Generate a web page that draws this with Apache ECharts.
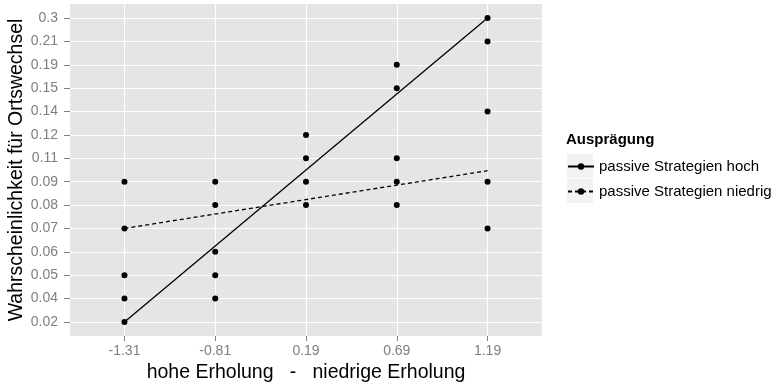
<!DOCTYPE html>
<html>
<head>
<meta charset="utf-8">
<script src="https://cdn.jsdelivr.net/npm/echarts@6/dist/echarts.min.js"></script>
<style>html,body{margin:0;padding:0;background:#fff;}#c{width:782px;height:388px;}</style>
</head>
<body>
<div id="c"></div>
<script>
// Category labels (discrete axes)
var xLabels = ['-1.31', '-0.81', '0.19', '0.69', '1.19'];
var yLabels = ['0.02', '0.04', '0.05', '0.06', '0.07', '0.08', '0.09', '0.11', '0.12', '0.14', '0.15', '0.19', '0.21', '0.3'];

// Observed points (x label, y label)
var pointX = ['-1.31','-1.31','-1.31','-1.31','-1.31',
              '-0.81','-0.81','-0.81','-0.81','-0.81',
              '0.19','0.19','0.19','0.19',
              '0.69','0.69','0.69','0.69','0.69',
              '1.19','1.19','1.19','1.19','1.19'];
var pointY = ['0.09','0.07','0.05','0.04','0.02',
              '0.09','0.08','0.06','0.05','0.04',
              '0.12','0.11','0.09','0.08',
              '0.19','0.15','0.11','0.09','0.08',
              '0.3','0.21','0.14','0.09','0.07'];

// Fitted lines: value (in y-category position units) at first and last x category
var seriesNames = ['passive Strategien hoch', 'passive Strategien niedrig'];
var fitHoch = [0, 13];
var fitNiedrig = [4, 6.47];
var fitX = [0, 4];

var pts = pointX.map(function (x, i) { return [xLabels.indexOf(x), yLabels.indexOf(pointY[i])]; });
function lineData(f) { return fitX.map(function (x, i) { return [x, f[i]]; }); }

var xIdx = xLabels.map(function (_, i) { return i; });
var yIdx = yLabels.map(function (_, i) { return i; });

var FONT = 'Liberation Sans, Arial, sans-serif';
var chart = echarts.init(document.getElementById('c'), null, { renderer: 'canvas' });
var grey = '#7F7F7F';
chart.setOption({
  animation: false,
  textStyle: { fontFamily: FONT },
  grid: { left: 70, right: 240, top: 4, bottom: 52, show: true, backgroundColor: '#E5E5E5', borderWidth: 0 },
  xAxis: {
    type: 'value', min: -0.6, max: 4.6,
    axisLine: { show: false, onZero: false },
    axisTick: { show: true, length: 5, customValues: xIdx, lineStyle: { color: grey, width: 1 } },
    axisLabel: { customValues: xIdx, color: grey, fontSize: 14, margin: 8, fontFamily: FONT,
      formatter: function (v) { return xLabels[Math.round(v)]; } },
    splitLine: { show: true, lineStyle: { color: '#FFFFFF', width: 1 } }
  },
  yAxis: {
    type: 'value', min: -0.6, max: 13.6,
    axisLine: { show: false, onZero: false },
    axisTick: { show: true, length: 6, customValues: yIdx, lineStyle: { color: grey, width: 1 } },
    axisLabel: { customValues: yIdx, color: grey, fontSize: 14, margin: 12, fontFamily: FONT,
      formatter: function (v) { return yLabels[Math.round(v)]; } },
    splitLine: { show: true, lineStyle: { color: '#FFFFFF', width: 1 } }
  },
  legend: {
    orient: 'vertical', left: 567, top: 159, padding: 0,
    itemWidth: 26, itemHeight: 8, itemGap: 10,
    data: seriesNames,
    textStyle: { color: '#000', fontSize: 15, fontFamily: FONT }
  },
  graphic: [
    { type: 'rect', left: 567, top: 154, z: -1, shape: { width: 26, height: 24 }, style: { fill: '#F2F2F2' } },
    { type: 'rect', left: 567, top: 179, z: -1, shape: { width: 26, height: 24 }, style: { fill: '#F2F2F2' } },
    { type: 'text', x: 566, y: 140, style: { text: 'Ausprägung', fontSize: 15, fontWeight: 'bold', fill: '#000', verticalAlign: 'middle', fontFamily: FONT } },
    { type: 'text', x: 17, y: 170, rotation: Math.PI / 2,
      style: { text: 'Wahrscheinlichkeit für Ortswechsel', fontSize: 19.5, fill: '#000', align: 'center', verticalAlign: 'middle', fontFamily: FONT } },
    { type: 'text', x: 306, y: 373,
      style: { text: 'hohe Erholung   -   niedrige Erholung', fontSize: 19.5, fill: '#000', align: 'center', verticalAlign: 'middle', fontFamily: FONT } }
  ],
  series: [
    { name: seriesNames[0], type: 'line', data: lineData(fitHoch), showSymbol: false, symbol: 'circle', symbolSize: 6,
      itemStyle: { color: '#000' }, lineStyle: { color: '#000', width: 1.3, type: 'solid' }, z: 3 },
    { name: seriesNames[1], type: 'line', data: lineData(fitNiedrig), showSymbol: false, symbol: 'circle', symbolSize: 6,
      itemStyle: { color: '#000' }, lineStyle: { color: '#000', width: 1.3, type: [4, 3] }, z: 3 },
    { name: 'Punkte', type: 'scatter', data: pts, symbol: 'circle', symbolSize: 6,
      itemStyle: { color: '#000', opacity: 1 }, z: 4 }
  ]
});
</script>
</body>
</html>
